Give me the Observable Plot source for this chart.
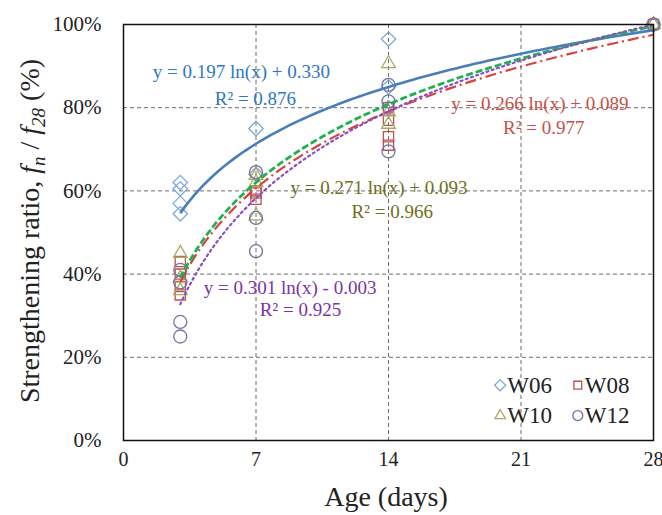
<!DOCTYPE html>
<html><head><meta charset="utf-8">
<script src="https://cdn.jsdelivr.net/npm/d3@7"></script>
<script src="https://cdn.jsdelivr.net/npm/@observablehq/plot@0.6"></script>
<style>
body{margin:0;background:#fff}
#chart{position:relative;width:662px;height:515px}
</style>
</head><body><div id="chart"></div>
<script>
// ---- data ----
const days = [3, 7, 14, 28];
const seriesNames = ["W06", "W08", "W10", "W12"];
// strengthening ratio (%) of each specimen, grouped by age in days
const w06 = [[62, 60.5, 57, 54.5], [75, 64], [96.5, 85, 80], [100]];
const w08 = [[43, 40, 37, 35], [60, 58, 59.5], [80, 77, 73, 71], [100]];
const w10 = [[45, 39, 36], [63.7, 54, 62], [90.6, 76, 79], [100]];
const w12 = [[28.5, 25, 41, 38], [64.5, 53.5, 45.5], [85.5, 81.5, 69.5], [100]];
// logarithmic fits y = a ln(x) + b
const fitA = [0.197, 0.266, 0.271, 0.301];
const fitB = [0.330, 0.089, 0.093, -0.003];
const eqTexts = ["y = 0.197 ln(x) + 0.330", "y = 0.266 ln(x) + 0.089", "y = 0.271 ln(x) + 0.093", "y = 0.301 ln(x) - 0.003"];
const r2Texts = ["R² = 0.876", "R² = 0.977", "R² = 0.966", "R² = 0.925"];
const xTicks = [0, 7, 14, 21, 28];
const yTicks = [0, 0.2, 0.4, 0.6, 0.8, 1.0];

// ---- layout / style (kept apart from data) ----
const markerSymbol = ["diamond2", "square2", "triangle2", "circle"];
const markerColor = ["#7ea9da", "#c0504d", "#a9a860", "#7474a4"];
const curveColor = ["#4a7ebb", "#d9413c", "#1fb04f", "#8a4fc4"];
const curveDash = [null, "11,4,2,4", "7,3", "2,3.5"];
const curveWidth = [2.6, 2.2, 2.8, 2.2];
const textColor = ["#2e77c6", "#c8504a", "#6f6f22", "#7a33a8"];
const eqPos = [[6.23, 0.885], [22.0, 0.81], [13.5, 0.606], [8.8, 0.368]];
const r2Pos = [[6.97, 0.822], [22.2, 0.752], [14.2, 0.55], [9.35, 0.313]];
const legendPos = [[19.9, 0.133], [24.0, 0.133], [19.9, 0.06], [24.0, 0.06]];
const FONT = '"Liberation Serif", "Times New Roman", serif';

// ---- tables ----
const groups = [w06, w08, w10, w12];
const points = [];
groups.forEach((g, si) => g.forEach((vals, di) => vals.forEach(v =>
  points.push({series: seriesNames[si], idx: si, age: days[di], ratio: v / 100}))));
const curves = [];
fitA.forEach((a, si) => {
  d3.range(3, 28.001, 0.25).forEach(x => curves.push({idx: si, age: x, ratio: a * Math.log(x) + fitB[si]}));
});

const marks = [
  Plot.gridY(yTicks.slice(1, -1), {stroke: "#6d6d6d", strokeOpacity: 1, strokeDasharray: "4,3"}),
  Plot.gridX([7, 14, 21], {stroke: "#6d6d6d", strokeOpacity: 1, strokeDasharray: "4,3"})
];
seriesNames.forEach((s, si) => {
  marks.push(Plot.dot(points.filter(p => p.idx === si), {
    x: "age", y: "ratio", symbol: () => markerSymbol[si], stroke: markerColor[si], fill: "none", r: 6.5, strokeWidth: 1.3
  }));
});
seriesNames.forEach((s, si) => {
  marks.push(Plot.line(curves.filter(p => p.idx === si), {
    x: "age", y: "ratio", stroke: curveColor[si], strokeWidth: curveWidth[si],
    strokeDasharray: curveDash[si] || undefined, strokeLinecap: si === 3 ? "round" : "butt"
  }));
});
seriesNames.forEach((s, si) => {
  marks.push(Plot.text([eqTexts[si]], {x: () => eqPos[si][0], y: () => eqPos[si][1], text: d => d,
    fill: textColor[si], fontSize: 19, fontFamily: FONT}));
  marks.push(Plot.text([r2Texts[si]], {x: () => r2Pos[si][0], y: () => r2Pos[si][1], text: d => d,
    fill: textColor[si], fontSize: 19, fontFamily: FONT}));
});
// legend
seriesNames.forEach((s, si) => {
  marks.push(Plot.dot([s], {x: () => legendPos[si][0], y: () => legendPos[si][1],
    symbol: () => markerSymbol[si], stroke: markerColor[si], fill: "none", r: 5, strokeWidth: 1.3}));
  marks.push(Plot.text([s], {x: () => legendPos[si][0], y: () => legendPos[si][1], text: d => d,
    dx: 7, textAnchor: "start", fontSize: 23, fontFamily: FONT, fill: "#222"}));
});
marks.push(Plot.frame({stroke: "#111", strokeWidth: 1.5}));
marks.push(Plot.axisX(xTicks, {tickSize: 0, tickPadding: 11, fontSize: 20, fontFamily: FONT, fill: "#222", label: null}));
marks.push(Plot.axisY(yTicks, {tickSize: 0, tickPadding: 22, fontSize: 21, fontFamily: FONT, fill: "#222",
  tickFormat: d => Math.round(d * 100) + "%", label: null}));

const chart = Plot.plot({
  width: 662, height: 515,
  marginLeft: 123, marginRight: 9, marginTop: 24, marginBottom: 75,
  x: {domain: [0, 28], label: null},
  y: {domain: [0, 1], label: null},
  style: {fontFamily: FONT, fontSize: "20px", background: "#fff", color: "#222"},
  marks
});

const svg = d3.select(chart);
// x axis title
svg.append("text").attr("x", 386).attr("y", 506).attr("text-anchor", "middle")
  .attr("font-family", FONT).attr("font-size", 28).attr("fill", "#222").text("Age (days)");
// y axis title with italic/subscript parts
const yl = svg.append("text").attr("transform", "translate(39,231) rotate(-90)")
  .attr("text-anchor", "middle").attr("font-family", FONT).attr("font-size", 28).attr("fill", "#222");
yl.append("tspan").text("Strengthening ratio, ");
yl.append("tspan").attr("font-style", "italic").text("f");
yl.append("tspan").attr("font-style", "italic").attr("font-size", 19).attr("dy", 6).text("n");
yl.append("tspan").attr("dy", -6).text(" / ");
yl.append("tspan").attr("font-style", "italic").text("f");
yl.append("tspan").attr("font-style", "italic").attr("font-size", 19).attr("dy", 6).text("28");
yl.append("tspan").attr("dy", -6).text(" (%)");

document.getElementById("chart").appendChild(chart);
</script>
</body></html>
